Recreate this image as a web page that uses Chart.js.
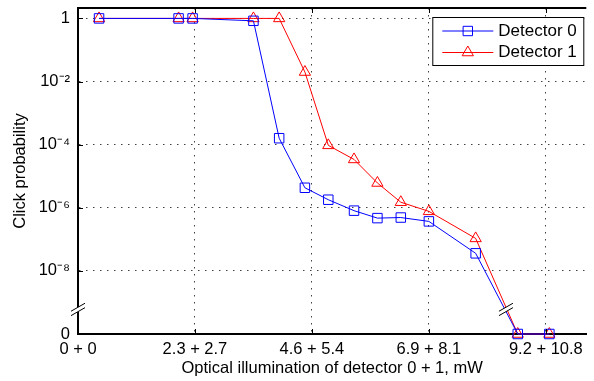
<!DOCTYPE html>
<html>
<head>
<meta charset="utf-8">
<script src="https://cdn.jsdelivr.net/npm/chart.js@4.4.0/dist/chart.umd.min.js"></script>
<style>
  html, body { margin: 0; padding: 0; background: #fff; }
  #wrap { width: 594px; height: 381px; position: relative; }
</style>
</head>
<body>
<div id="wrap"><canvas id="grafico"></canvas></div>
<script>
// potência total nos detectores 0 + 1 (mW)
const potencia = [0.9, 4.3, 4.9, 7.5, 8.6, 9.7, 10.7, 11.8, 12.8, 13.8, 15.0, 17.0, 18.8, 20.15];
const detector0 = [1, 1, 1, 0.84, 1.6e-4, 4.3e-6, 1.8e-6, 8.1e-7, 4.7e-7, 4.9e-7, 3.7e-7, 3.6e-8, 0, 0];
const detector1 = [1, 1, 1, 1, 1, 0.02, 9.5e-5, 3.4e-5, 6.1e-6, 1.5e-6, 7.7e-7, 1.07e-7, 0, 0];

const ticksX = [0, 5, 10, 15, 20];
const rotulosX = ['0 + 0', '2.3 + 2.7', '4.6 + 5.4', '6.9 + 8.1', '9.2 + 10.8'];
const ticksY = [1e-10, 1e-8, 1e-6, 1e-4, 1e-2, 1];
const rotulosY = ['0', '10⁻⁸', '10⁻⁶', '10⁻⁴', '10⁻²', '1'];

// o eixo log não tem zero: "0" fica no fundo do eixo, com quebra logo acima
const Y_MIN = 1e-10;
const Y_MAX = Math.pow(10, 0.33);
const Y_QUEBRA = 6e-10;

const FONTE = '"Liberation Sans", Arial, Helvetica, sans-serif';

function pontos(valores) {
  return potencia.map((x, i) => ({ x: x, y: valores[i] === 0 ? Y_MIN : valores[i] }));
}

// quebra "//" com fundo branco
function desenharQuebra(ctx, cx, cy) {
  const dx = 7, dy = 4, g = 2.2;
  ctx.save();
  ctx.fillStyle = '#fff';
  ctx.beginPath();
  ctx.moveTo(cx - dx, cy + dy + g);
  ctx.lineTo(cx + dx, cy - dy + g);
  ctx.lineTo(cx + dx, cy - dy - g);
  ctx.lineTo(cx - dx, cy + dy - g);
  ctx.closePath();
  ctx.fill();
  ctx.strokeStyle = '#000';
  ctx.lineWidth = 1;
  [g, -g].forEach(o => {
    ctx.beginPath();
    ctx.moveTo(cx - dx, cy + dy + o);
    ctx.lineTo(cx + dx, cy - dy + o);
    ctx.stroke();
  });
  ctx.restore();
}

const moldura = {
  id: 'moldura',
  afterDatasetsDraw(chart) {
    const { ctx, chartArea: a, scales } = chart;
    const yb = scales.y.getPixelForValue(Y_QUEBRA);
    desenharQuebra(ctx, a.left, yb);

    // onde as curvas cruzam o nível da quebra
    const xs = [];
    chart.data.datasets.forEach((ds, i) => {
      const pts = chart.getDatasetMeta(i).data;
      for (let k = 0; k < pts.length - 1; k++) {
        const p1 = pts[k], p2 = pts[k + 1];
        if (p1.y < yb && p2.y >= yb) {
          xs.push(p1.x + (yb - p1.y) * (p2.x - p1.x) / (p2.y - p1.y));
        }
      }
    });
    if (xs.length) {
      desenharQuebra(ctx, xs.reduce((s, v) => s + v, 0) / xs.length, yb);
    }
  },
  afterDraw(chart) {
    const { ctx, chartArea: a, scales } = chart;
    ctx.save();
    // borda de cima
    ctx.strokeStyle = '#000';
    ctx.lineWidth = 2;
    ctx.beginPath();
    ctx.moveTo(a.left - 1, a.top);
    ctx.lineTo(a.right, a.top);
    ctx.stroke();

    // marcas internas
    ctx.lineWidth = 1;
    ticksX.slice(1).forEach(v => {
      const x = Math.round(scales.x.getPixelForValue(v)) + 0.5;
      ctx.beginPath();
      ctx.moveTo(x, a.top); ctx.lineTo(x, a.top + 5);
      ctx.moveTo(x, a.bottom); ctx.lineTo(x, a.bottom - 5);
      ctx.stroke();
    });
    ticksY.slice(1).forEach(v => {
      const y = Math.round(scales.y.getPixelForValue(v)) + 0.5;
      ctx.beginPath();
      ctx.moveTo(a.left, y); ctx.lineTo(a.left + 5, y);
      ctx.stroke();
    });

    // legenda
    const bw = 152, bh = 49;
    const bx = a.right - 2 - bw, by = a.top + 9;
    ctx.fillStyle = '#fff';
    ctx.fillRect(bx, by, bw, bh);
    ctx.strokeStyle = '#000';
    ctx.lineWidth = 1;
    ctx.strokeRect(bx + 0.5, by + 0.5, bw - 1, bh - 1);
    const linhas = [by + 14, by + 35.5];
    chart.data.datasets.forEach((ds, i) => {
      const y = linhas[i];
      ctx.strokeStyle = ds.borderColor;
      ctx.lineWidth = 1;
      ctx.beginPath();
      ctx.moveTo(bx + 10, y); ctx.lineTo(bx + 61, y);
      ctx.stroke();
      const mx = bx + 35.5;
      ctx.beginPath();
      if (ds.pointStyle === 'rect') {
        ctx.rect(mx - 4.7, y - 4.7, 9.4, 9.4);
      } else {
        const r = ds.pointRadius;
        ctx.moveTo(mx, y - r);
        ctx.lineTo(mx + r * 0.866, y + r / 2);
        ctx.lineTo(mx - r * 0.866, y + r / 2);
        ctx.closePath();
      }
      ctx.stroke();
      ctx.fillStyle = '#000';
      ctx.font = '17px ' + FONTE;
      ctx.textBaseline = 'middle';
      ctx.textAlign = 'left';
      ctx.fillText(ds.label, bx + 66, y);
    });
    ctx.restore();
  }
};

const ctx = document.getElementById('grafico').getContext('2d');
new Chart(ctx, {
  type: 'line',
  data: {
    datasets: [{
      label: 'Detector 0',
      data: pontos(detector0),
      borderColor: '#0000ff',
      borderWidth: 1,
      pointStyle: 'rect',
      pointRadius: 6.7,
      pointBorderColor: '#0000ff',
      pointBackgroundColor: 'rgba(0,0,0,0)',
      pointBorderWidth: 1,
      tension: 0,
      clip: false
    }, {
      label: 'Detector 1',
      data: pontos(detector1),
      borderColor: '#ff0000',
      borderWidth: 1,
      pointStyle: 'triangle',
      pointRadius: 6.5,
      pointBorderColor: '#ff0000',
      pointBackgroundColor: 'rgba(0,0,0,0)',
      pointBorderWidth: 1,
      tension: 0,
      clip: false
    }]
  },
  options: {
    responsive: true,
    maintainAspectRatio: false,
    animation: false,
    devicePixelRatio: 1,
    layout: { padding: { top: 8, left: 0, right: 0, bottom: 0 } },
    plugins: {
      legend: { display: false },
      tooltip: { enabled: false }
    },
    scales: {
      x: {
        type: 'linear',
        min: 0,
        max: 21.73,
        afterBuildTicks: s => { s.ticks = ticksX.map(v => ({ value: v })); },
        afterFit: s => { s.height = 47; s.paddingLeft = 0; s.paddingRight = 0; },
        ticks: {
          callback: (v, i) => rotulosX[i],
          color: '#000',
          font: { family: FONTE, size: 16.5 },
          padding: 6,
          maxRotation: 0,
          autoSkip: false
        },
        grid: {
          color: c => (c.tick && c.tick.value === 0) ? 'rgba(0,0,0,0)' : 'rgba(0,0,0,0.75)',
          lineWidth: 1,
          drawTicks: false
        },
        border: { display: true, color: '#000', width: 2, dash: [1.5, 5.5] },
        title: {
          display: true,
          text: 'Optical illumination of detector 0 + 1, mW',
          color: '#000',
          font: { family: FONTE, size: 16.5 },
          padding: { top: 0, bottom: 2.6 }
        }
      },
      y: {
        type: 'logarithmic',
        min: Y_MIN,
        max: Y_MAX,
        afterBuildTicks: s => { s.ticks = ticksY.map(v => ({ value: v })); },
        afterFit: s => { s.width = 78; s.paddingTop = 0; s.paddingBottom = 0; },
        ticks: {
          callback: (v, i) => rotulosY[i],
          color: '#000',
          font: { family: FONTE, size: 16.5 },
          padding: 8
        },
        grid: {
          color: c => (c.tick && c.tick.value === Y_MIN) ? 'rgba(0,0,0,0)' : 'rgba(0,0,0,0.75)',
          lineWidth: 1,
          drawTicks: false
        },
        border: { display: true, color: '#000', width: 2, dash: [1.5, 5.5] },
        title: {
          display: true,
          text: 'Click probability',
          color: '#000',
          font: { family: FONTE, size: 16.5 },
          padding: { top: 11, bottom: 0 }
        }
      }
    }
  },
  plugins: [moldura]
});
</script>
</body>
</html>
